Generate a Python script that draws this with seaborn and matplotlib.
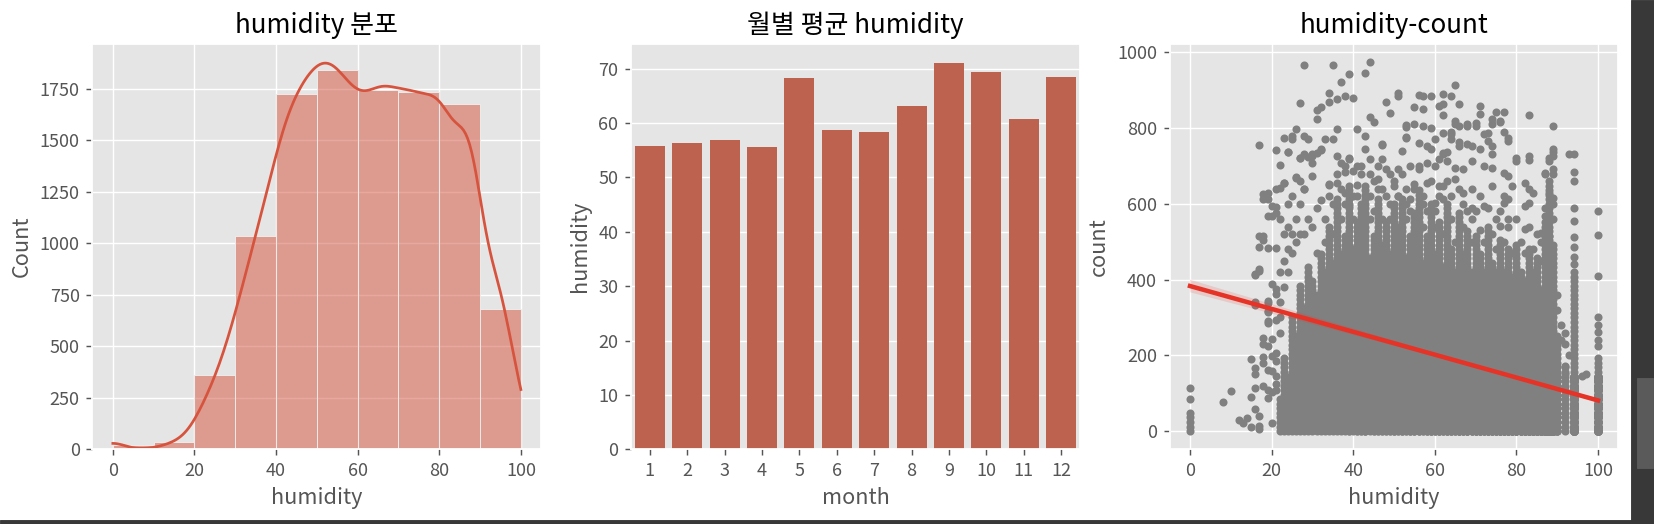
import numpy as np
import pandas as pd
import matplotlib
matplotlib.use('Agg')
import matplotlib.pyplot as plt
from matplotlib.patches import Rectangle
import seaborn as sns

plt.style.use('ggplot')
plt.rcParams['font.family'] = ['Noto Sans CJK KR', 'DejaVu Sans']
plt.rcParams['axes.unicode_minus'] = False

# humidity 도수표 (값, 개수) - 히스토그램에서 읽은 값
hum_levels = [0, 8, 11, 13, 15, 17, 19, 21, 23, 25, 27, 29, 31, 33, 35, 37, 39,
              41, 43, 45, 47, 49, 51, 53, 55, 57, 59, 61, 63, 65, 67, 69,
              71, 73, 75, 77, 79, 81, 83, 85, 87, 89, 91, 93, 95, 97, 99, 100]
hum_counts = [22, 1, 2, 4, 8, 10, 12, 38, 52, 66, 89, 116, 146, 178, 208, 239, 264,
              313, 332, 348, 360, 373, 380, 385, 372, 360, 346, 340, 342, 360, 362, 340,
              355, 350, 345, 342, 340, 375, 290, 270, 370, 370, 90, 170, 240, 80, 50, 51]

# 월별 평균 humidity
months = [1, 2, 3, 4, 5, 6, 7, 8, 9, 10, 11, 12]
month_humidity = [55.8, 56.3, 56.8, 55.5, 68.2, 58.7, 58.4, 63.1, 71.0, 69.4, 60.7, 68.4]

# humidity-count 산점도
# 기둥(humidity 값)마다 0부터 빽빽하게 찍힌 구간의 윗끝, 낮은 count(0~144)가 겹쳐 찍힌 횟수
col_humidity = [0,
                22, 23, 24, 25, 26, 27, 28, 29, 30, 31, 32, 33, 34, 35,
                36, 37, 38, 39, 40, 41, 42, 43, 44, 45, 46, 47, 48, 49, 50,
                51, 52, 53, 54, 55, 56, 57, 58, 59, 60, 61, 62, 63,
                64, 65, 66, 67, 68, 69, 70, 71, 72, 73, 74, 75, 76, 77, 78, 79,
                80, 81, 82, 83, 84, 85, 86, 87, 88, 89, 90,
                92, 94, 100]
col_top = [48,
           90, 200, 150, 300, 260, 390, 330, 440, 400, 360, 470, 430, 540, 450,
           610, 470, 520, 650, 480, 560, 600, 640, 460, 520, 620, 500, 560, 470, 600,
           540, 620, 460, 520, 580, 640, 450, 520, 600, 470, 560, 440, 600,
           480, 430, 580, 470, 530, 430, 520, 470, 420, 540, 450, 420, 510, 430, 480, 410,
           500, 430, 400, 480, 420, 460, 380, 560, 650, 500, 260,
           170, 420, 200]
col_core = [0,
            0, 0, 0, 0, 0, 0, 0, 0, 0, 0, 0, 0, 0, 0,
            0, 0, 0, 1, 0, 1, 1, 2, 0, 1, 1, 1, 1, 1, 2,
            1, 2, 1, 2, 2, 2, 1, 2, 3, 2, 3, 2, 3,
            3, 2, 4, 3, 4, 3, 4, 4, 3, 5, 4, 4, 6, 5, 6, 5,
            7, 6, 6, 9, 8, 10, 8, 21, 33, 20, 3,
            0, 27, 20]
band_levels = [0, 12, 24, 36, 48, 60, 72, 84, 96, 108, 120, 132, 144, 156, 168, 180,
               192, 204, 216, 228, 240, 252, 264, 276, 288, 300, 312, 324, 336, 348,
               360, 372, 384, 396, 408, 420, 432, 444, 456, 468, 480, 492, 504, 516,
               528, 540, 552, 564, 576, 588, 600, 612, 624, 636, 648]

# 흩어진 점들 (humidity, count)
extra_humidity = [0, 0, 8, 10, 12, 13, 14, 15, 16, 17, 17, 15, 16, 18, 19, 19, 21,
                  15, 16, 16, 18, 19, 21, 21, 18, 19, 16, 19, 19, 19, 21, 20, 21, 21,
                  17, 16, 18, 18, 17, 19, 21, 19, 19, 20, 21, 19, 20, 21, 17, 21, 24,
                  22, 23, 25, 25, 28, 29, 26, 27, 29, 30, 32, 18, 18, 22, 23, 26, 27, 17,
                  16, 17, 16, 19, 19, 19, 18, 20, 18, 20, 20, 21, 21, 20, 23, 24, 20, 17,
                  22, 22, 22, 22, 23, 23, 24, 24, 24, 25, 25, 23, 22, 24, 25, 26, 27, 28,
                  26, 27,
                  28, 35, 39, 37, 34, 34, 36, 38, 40, 27, 31, 32, 31, 44, 43, 65, 51, 51,
                  48, 49, 56, 57, 59, 62, 64, 55, 57, 61, 62, 62, 66, 71, 71, 75, 77, 74,
                  76, 83, 89, 94, 65, 68, 70, 44, 45, 47, 53, 53, 57, 59, 64, 66, 68, 77,
                  78, 73, 74, 80, 83, 87, 89, 89, 62, 63, 59,
                  24, 27, 28, 30, 31, 32, 21, 23, 26, 28, 30, 30, 33, 35, 36, 36, 37, 39,
                  38, 40, 34, 36, 34, 36, 38, 41, 39, 41, 43, 43, 44, 47, 47, 42, 44, 46,
                  48, 49, 51, 52, 53, 55, 53, 56, 58, 60, 54, 56, 58, 60, 61, 43, 46, 50,
                  53, 55, 58, 61, 54, 57, 60, 62, 51,
                  62, 62, 64, 64, 65, 66, 68, 70, 74, 76, 66, 69, 71, 72, 73, 74, 78, 63,
                  65, 67, 69, 72, 74, 77, 78, 80, 83, 62, 65, 67, 69, 74, 77, 79, 82, 83,
                  84, 72, 69, 77, 78, 82, 83, 87, 88, 89, 87, 88, 78, 82, 86, 88, 76, 89,
                  93, 88, 88, 89, 87, 89, 88, 94, 94, 94, 94, 94, 94, 94, 94, 100, 100,
                  100, 100, 100, 100, 100, 100, 92, 92, 97, 96, 92, 92, 93]
extra_count = [84, 113, 76, 107, 30, 22, 35, 10, 58, 40, 14, 91, 114, 118, 109, 87, 109,
               191, 167, 150, 181, 162, 206, 184, 231, 225, 333, 337, 315, 286, 292, 388, 375, 361,
               429, 416, 516, 504, 486, 483, 483, 630, 614, 595, 591, 569, 569, 576, 755, 741, 736,
               702, 775, 779, 772, 779, 770, 797, 722, 724, 726, 743, 625, 612, 641, 655, 670, 661, 515,
               411, 423, 340, 343, 318, 290, 246, 242, 196, 198, 159, 146, 124, 102, 8, 4, 21, 5,
               260, 300, 340, 420, 380, 450, 420, 480, 540, 470, 520, 520, 560, 600, 620, 560, 600, 640,
               500, 520,
               967, 967, 943, 921, 894, 870, 877, 884, 880, 866, 849, 857, 824, 974, 946, 915, 894, 884,
               868, 840, 887, 884, 884, 891, 885, 857, 851, 858, 865, 835, 865, 858, 837, 843, 843, 823,
               820, 834, 806, 731, 820, 811, 813, 829, 816, 756, 807, 776, 805, 801, 791, 763, 757, 791,
               773, 787, 752, 721, 726, 682, 726, 745, 731, 736, 744,
               737, 720, 731, 731, 735, 744, 638, 656, 667, 638, 709, 674, 771, 771, 797, 727, 709, 718,
               683, 687, 652, 656, 621, 612, 630, 621, 594, 797, 780, 744, 718, 758, 718, 700, 678, 665,
               691, 678, 691, 740, 802, 811, 775, 762, 753, 771, 700, 691, 709, 700, 718, 647, 638, 647,
               638, 652, 656, 647, 612, 621, 603, 612, 621,
               788, 735, 784, 771, 811, 806, 806, 806, 811, 815, 753, 753, 744, 784, 766, 731, 766, 713,
               696, 691, 713, 700, 696, 682, 674, 713, 716, 647, 665, 629, 638, 647, 621, 647, 656, 638,
               629, 594, 590, 603, 612, 594, 603, 590, 629, 616, 568, 559, 559, 533, 524, 515, 541, 738,
               731, 722, 713, 691, 678, 678, 660, 685, 660, 590, 556, 513, 487, 460, 440, 582, 518,
               410, 300, 280, 262, 240, 225, 173, 150, 150, 145, 260, 230, 200]

# 빽빽한 구간 위쪽의 반쯤 찬 영역 (humidity, count)
mid_humidity = [28, 29, 30, 31, 31, 32, 33, 33, 34, 35, 35, 36, 37, 37, 38, 38, 39, 40,
                40, 41, 41, 42, 44, 44, 45, 45, 46, 47, 47, 48, 49, 49, 50, 51, 52, 53,
                53, 54, 55, 56, 57, 57, 58, 59, 60, 60, 61, 62, 63, 64, 64, 65, 66, 67,
                67, 68, 69, 69, 70, 71, 71, 72, 73, 74, 75, 75, 76, 77, 78, 79, 80, 81,
                82, 83, 84, 85, 86, 86, 89, 89, 90, 90, 91, 91]
mid_count = [520, 560, 540, 590, 470, 610, 560, 500, 650, 600, 520, 680, 640, 560, 600, 700,
             720, 560, 620, 650, 700, 680, 560, 620, 580, 660, 700, 560, 640, 620, 560, 600,
             660, 620, 680, 560, 600, 580, 640, 700, 540, 600, 580, 660, 540, 580, 620, 520,
             660, 560, 620, 500, 640, 540, 600, 580, 500, 560, 580, 530, 620, 500, 590, 520,
             480, 560, 580, 500, 540, 470, 560, 500, 470, 540, 480, 520, 450, 500, 560, 600,
             320, 360, 280, 240]

# 데이터 프레임 만들기
df_hum = pd.DataFrame({'humidity': np.repeat(hum_levels, hum_counts)})
df_month = pd.DataFrame({'month': months, 'humidity': month_humidity})

low_levels = [v for v in band_levels if v <= 144]
sc_h, sc_c = [], []
for h, top, core in zip(col_humidity, col_top, col_core):
    pts = [v for v in band_levels if v <= top] + low_levels * core
    sc_h += [h] * len(pts)
    sc_c += pts
sc_h += extra_humidity + mid_humidity
sc_c += extra_count + mid_count
df_sc = pd.DataFrame({'humidity': sc_h, 'count': sc_c})

fig, axes = plt.subplots(1, 3, figsize=(1654 / 130, 524 / 130), dpi=130)
plt.subplots_adjust(left=0.0559, right=0.9785, bottom=0.1422, top=0.9164, wspace=0.2)

# humidity 분포
sns.histplot(df_hum['humidity'], bins=10, kde=True, color='#D6533D', ax=axes[0])
axes[0].set_title('humidity 분포')

# 월별 평균 humidity
sns.barplot(data=df_month, x='month', y='humidity', errorbar=None, color='#BE6250',
            saturation=1, ax=axes[1])
axes[1].set_title('월별 평균 humidity')

# humidity-count
sns.regplot(data=df_sc, x='humidity', y='count', ax=axes[2], seed=0,
            scatter_kws={'color': 'gray', 's': 12, 'alpha': 1},
            line_kws={'color': '#E53427', 'lw': 2.5})
axes[2].set_title('humidity-count')

# 화면 캡처 테두리
fig.add_artist(Rectangle((1631 / 1654, 0), 23 / 1654, 1, transform=fig.transFigure,
                         color='#383838', zorder=10))
fig.add_artist(Rectangle((0, 0), 1, 4 / 524, transform=fig.transFigure,
                         color='#383838', zorder=10))
fig.add_artist(Rectangle((1637 / 1654, 56 / 524), 16 / 1654, 90 / 524, transform=fig.transFigure,
                         color='#5a5a5a', zorder=11))

plt.savefig('out.png', dpi=130)
